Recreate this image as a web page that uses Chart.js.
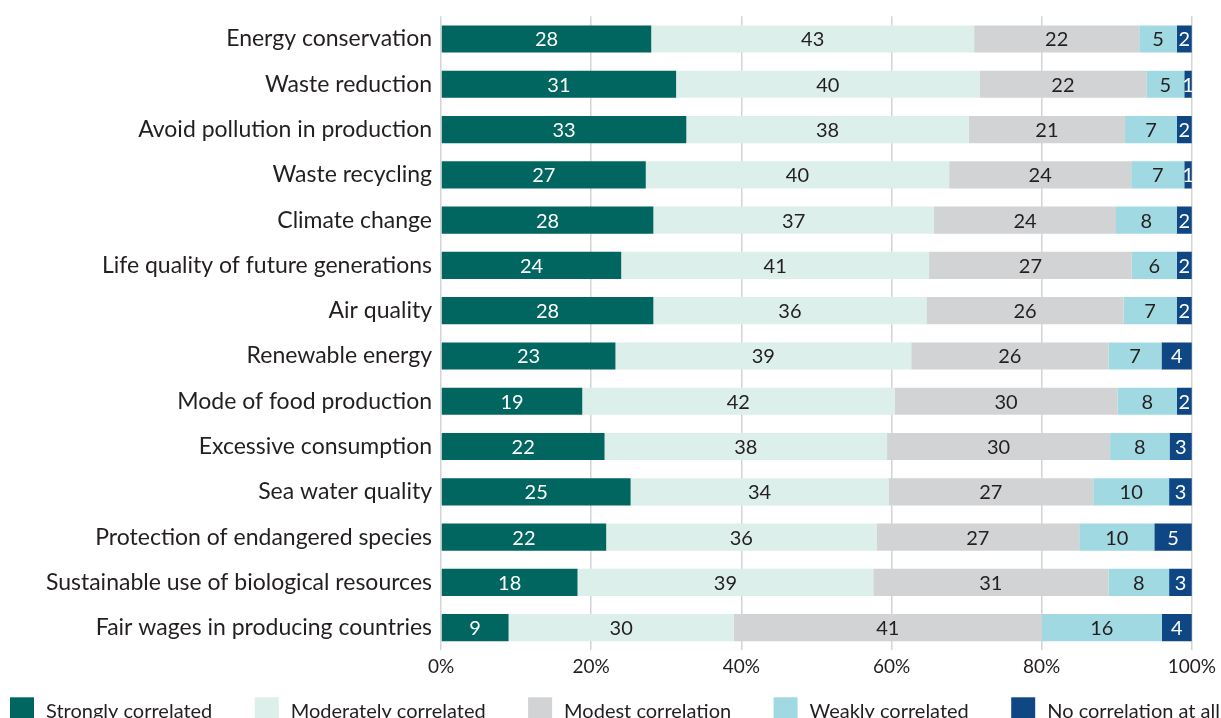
<!DOCTYPE html>
<html>
<head>
<meta charset="utf-8">
<script src="https://cdn.jsdelivr.net/npm/chart.js@4.4.1/dist/chart.umd.min.js"></script>
<style>
  html, body { margin: 0; padding: 0; background: #fff; overflow: hidden; }
</style>
</head>
<body>
<canvas id="nchart" width="1221" height="718"></canvas>
<script>
// categorias e percentuais por nível de correlação
const temas = [
  "Energy conservation",
  "Waste reduction",
  "Avoid pollution in production",
  "Waste recycling",
  "Climate change",
  "Life quality of future generations",
  "Air quality",
  "Renewable energy",
  "Mode of food production",
  "Excessive consumption",
  "Sea water quality",
  "Protection of endangered species",
  "Sustainable use of biological resources",
  "Fair wages in producing countries"
];
const forte      = [28, 31, 33, 27, 28, 24, 28, 23, 19, 22, 25, 22, 18, 9];
const moderada   = [43, 40, 38, 40, 37, 41, 36, 39, 42, 38, 34, 36, 39, 30];
const modesta    = [22, 22, 21, 24, 24, 27, 26, 26, 30, 30, 27, 27, 31, 41];
const fraca      = [5, 5, 7, 7, 8, 6, 7, 7, 8, 8, 10, 10, 8, 16];
const nenhuma    = [2, 1, 2, 1, 2, 2, 2, 4, 2, 3, 3, 5, 3, 4];
const ticksX     = ["0%", "20%", "40%", "60%", "80%", "100%"];

const series = [
  { nome: "Strongly correlated",   valores: forte,    cor: "#00665f", texto: "#ffffff" },
  { nome: "Moderately correlated", valores: moderada, cor: "#dcefea", texto: "#231f20" },
  { nome: "Modest correlation",    valores: modesta,  cor: "#d2d3d5", texto: "#231f20" },
  { nome: "Weakly correlated",     valores: fraca,    cor: "#a1d9e3", texto: "#231f20" },
  { nome: "No correlation at all", valores: nenhuma,  cor: "#0f4784", texto: "#ffffff" }
];

const fonte = "Lato, 'Open Sans', sans-serif";

// cada linha somada vira 100%
const totais = temas.map((t, i) => series.reduce((s, d) => s + d.valores[i], 0));

// numeros dentro das barras
const rotulos = {
  id: "rotulos",
  afterDatasetsDraw(chart) {
    const ctx = chart.ctx;
    ctx.save();
    ctx.font = "20px " + fonte;
    ctx.textAlign = "center";
    ctx.textBaseline = "middle";
    chart.data.datasets.forEach((ds, i) => {
      chart.getDatasetMeta(i).data.forEach((bar, j) => {
        ctx.fillStyle = series[i].texto;
        ctx.fillText(series[i].valores[j], (bar.x + bar.base) / 2, bar.y + 1);
      });
    });
    ctx.restore();
  }
};

// legenda espalhada na largura toda
const legenda = {
  id: "legenda",
  afterDraw(chart) {
    const ctx = chart.ctx;
    ctx.save();
    ctx.font = "20px " + fonte;
    ctx.textBaseline = "middle";
    const caixa = 24, espaco = 12, ini = 10, fim = chart.width - 1;
    const larg = series.map(s => caixa + espaco + ctx.measureText(s.nome).width);
    const gap = (fim - ini - larg.reduce((a, b) => a + b, 0)) / (series.length - 1);
    const y = chart.chartArea.bottom + 47;
    let x = ini;
    series.forEach((s, i) => {
      ctx.fillStyle = s.cor;
      ctx.fillRect(x, y, caixa, caixa);
      ctx.fillStyle = "#231f20";
      ctx.fillText(s.nome, x + caixa + espaco, y + 14);
      x += larg[i] + gap;
    });
    ctx.restore();
  }
};

new Chart(document.getElementById("nchart"), {
  type: "bar",
  data: {
    labels: temas,
    datasets: series.map(s => ({
      label: s.nome,
      data: s.valores.map((v, i) => v / totais[i] * 100),
      backgroundColor: s.cor,
      borderWidth: 0,
      categoryPercentage: 0.6,
      barPercentage: 1
    }))
  },
  options: {
    indexAxis: "y",
    responsive: false,
    animation: false,
    layout: { padding: { top: 16.35, right: 24, bottom: 34.9, left: 0 } },
    plugins: { legend: { display: false }, tooltip: { enabled: false } },
    scales: {
      x: {
        stacked: true,
        min: 0,
        max: 100,
        border: { display: false },
        grid: { color: "#d4d4d6", lineWidth: 1.5, drawTicks: false },
        ticks: {
          stepSize: 20,
          padding: 5,
          color: "#231f20",
          font: { family: fonte, size: 19 },
          callback: (v, i) => ticksX[i]
        }
      },
      y: {
        stacked: true,
        border: { display: false },
        grid: { display: false, drawTicks: false },
        ticks: { padding: 9, color: "#231f20", font: { family: fonte, size: 23 } },
        afterFit(scale) {
          scale.width = 441;
          scale.paddingTop = 0;
          scale.paddingBottom = 0;
        }
      }
    }
  },
  plugins: [rotulos, legenda]
});
</script>
</body>
</html>
